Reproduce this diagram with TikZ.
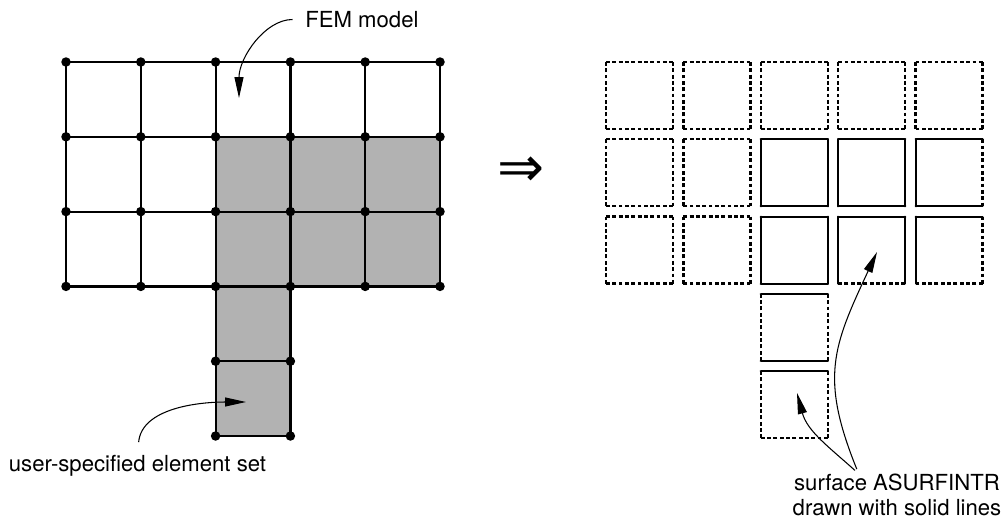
\documentclass[tikz,border=0pt]{standalone}
\usepackage{fontspec}
\setmainfont{TeX Gyre Heros}
\newfontfamily\arrowfont{DejaVu Sans}
\usetikzlibrary{arrows.meta}
\definecolor{setgray}{gray}{0.7}
\tikzstyle{dot} = [circle,fill=black,inner sep=0pt,minimum size=0.19cm]
\tikzstyle{mesh} = [line width=1.25pt,line cap=round]
\tikzstyle{freeface} = [line width=1.3pt,dash pattern=on 2.2pt off 1.4pt]
\tikzstyle{surfface} = [line width=1.25pt,line cap=round]
\tikzstyle{callout} = [line width=0.6pt,-{Triangle[length=0.42cm,width=0.18cm]}]
\tikzstyle{note} = [font=\fontsize{12.6}{14.2}\selectfont,inner sep=0pt]
% one element of the exploded mesh: column, row, then top/right/bottom/left face styles
\newcommand{\elem}[6]{%
  \begin{scope}[shift={({606+77.4*(#1-1)},{62+77.3*(#2-1)})}]
    \draw[#3] (0,0) -- (67,0);
    \draw[#4] (67,0) -- (67,67);
    \draw[#5] (67,67) -- (0,67);
    \draw[#6] (0,67) -- (0,0);
  \end{scope}}

\begin{document}
\begin{tikzpicture}[x=0.02cm,y=-0.02cm]
	\useasboundingbox (0,0) rectangle (1006,524);
	% mesh points
	\foreach \i in {0,...,5}
		\foreach \j in {0,...,5}
			\coordinate (n\i\j) at ({66+74.8*\i},{62+74.8*\j});
	% element set
	\fill[setgray] (n21) -- (n51) -- (n53) -- (n33) -- (n35) -- (n25) -- cycle;
	% FEM model
	\foreach \j in {0,...,3} \draw[mesh] (n0\j) -- (n5\j);
	\foreach \i in {0,...,5} \draw[mesh] (n\i0) -- (n\i3);
	\draw[mesh] (n23) -- (n25) (n33) -- (n35) (n24) -- (n34) (n25) -- (n35);
	\foreach \i in {0,...,5} \foreach \j in {0,...,3} \node[dot] at (n\i\j) {};
	\foreach \i/\j in {2/4,3/4,2/5,3/5} \node[dot] at (n\i\j) {};

	\node[font=\arrowfont\fontsize{32}{32}\selectfont,inner sep=0pt] (implies) at (521,172) {⇒};

	% exploded elements
	\foreach \c in {1,...,5} \elem{\c}{1}{freeface}{freeface}{freeface}{freeface};
	\foreach \c in {1,2} \foreach \r in {2,3} \elem{\c}{\r}{freeface}{freeface}{freeface}{freeface};
	\elem{3}{2}{surfface}{surfface}{surfface}{surfface};
	\elem{4}{2}{surfface}{surfface}{surfface}{surfface};
	\elem{5}{2}{surfface}{freeface}{surfface}{surfface};
	\elem{3}{3}{surfface}{surfface}{surfface}{surfface};
	\elem{4}{3}{surfface}{surfface}{freeface}{surfface};
	\elem{5}{3}{surfface}{freeface}{freeface}{surfface};
	\elem{3}{4}{surfface}{freeface}{surfface}{freeface};
	\elem{3}{5}{surfface}{freeface}{freeface}{freeface};

	% labels
	\node[note,anchor=west] (fem) at (305,19.5) {FEM model};
	\node[note] (usr) at (137.5,466) {user-specified element set};
	\node[note,align=center] (surf) at (897,495) {surface ASURFINTR\\drawn with solid lines};
	\coordinate (femtip) at (239,98);
	\coordinate (usrtip) at (246,402);
	\coordinate (tipa) at (797,393);
	\coordinate (tipb) at (877,252);
	\draw[callout,shorten <=0.25cm] (fem.west) to[out=180,in=90] (femtip);
	\draw[callout,shorten <=0.26cm] (usr.north) to[out=85,in=180] (usrtip);
	\draw[callout,shorten <=0.1cm] (surf.151) to[out=138,in=-75] (tipa);
	\draw[callout,shorten <=0.1cm] (surf.151) to[out=112,in=-115,looseness=1.2] (tipb);
\end{tikzpicture}
\end{document}
